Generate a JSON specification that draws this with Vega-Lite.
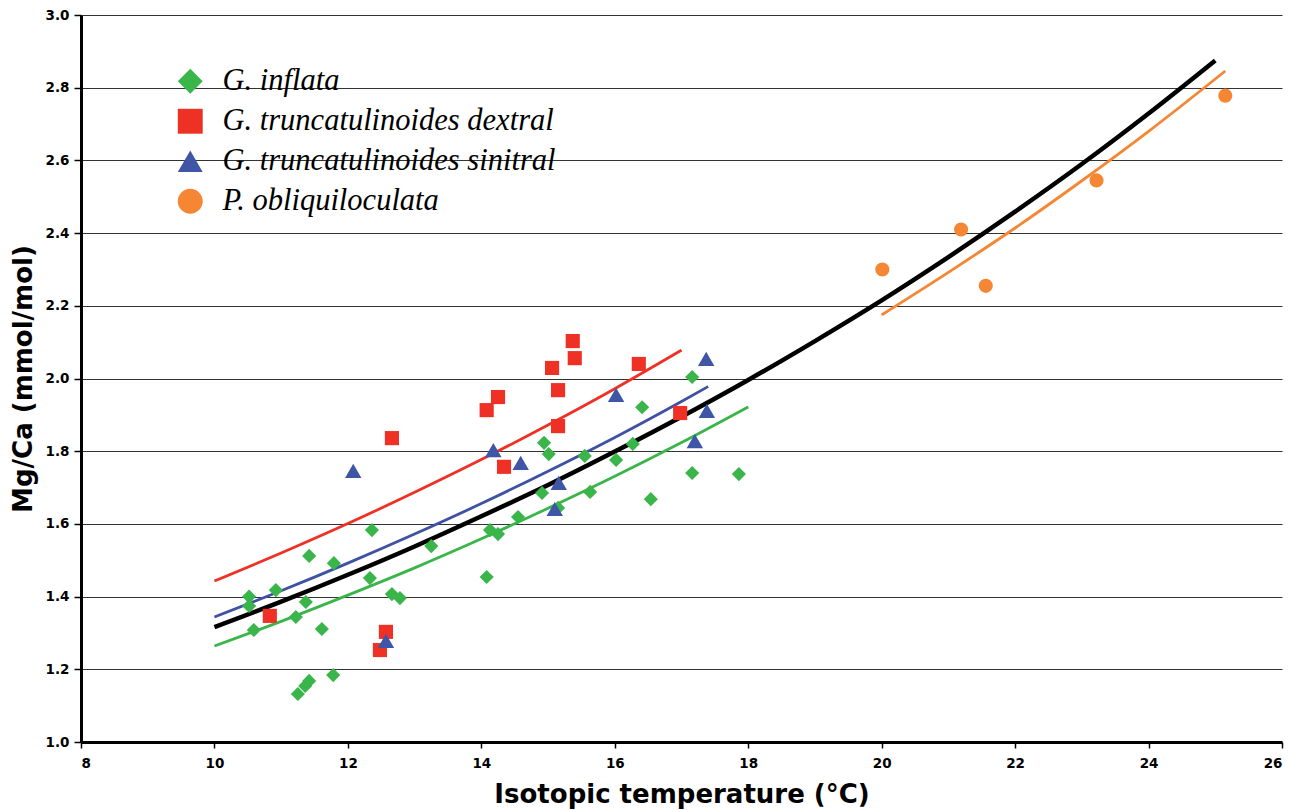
{
  "$schema": "https://vega.github.io/schema/vega-lite/v6.json",
  "width": 1201,
  "height": 727,
  "autosize": {"type": "none"},
  "padding": {"left": 81, "top": 15, "right": 17, "bottom": 68},
  "background": "white",
  "datasets": {
    "points": [
      {"species": "G. inflata", "T": 10.52, "MgCa": 1.400},
      {"species": "G. inflata", "T": 10.52, "MgCa": 1.374},
      {"species": "G. inflata", "T": 10.59, "MgCa": 1.308},
      {"species": "G. inflata", "T": 10.92, "MgCa": 1.418},
      {"species": "G. inflata", "T": 11.22, "MgCa": 1.344},
      {"species": "G. inflata", "T": 11.42, "MgCa": 1.512},
      {"species": "G. inflata", "T": 11.37, "MgCa": 1.385},
      {"species": "G. inflata", "T": 11.25, "MgCa": 1.132},
      {"species": "G. inflata", "T": 11.36, "MgCa": 1.154},
      {"species": "G. inflata", "T": 11.42, "MgCa": 1.168},
      {"species": "G. inflata", "T": 11.61, "MgCa": 1.311},
      {"species": "G. inflata", "T": 11.79, "MgCa": 1.492},
      {"species": "G. inflata", "T": 11.78, "MgCa": 1.184},
      {"species": "G. inflata", "T": 12.36, "MgCa": 1.583},
      {"species": "G. inflata", "T": 12.33, "MgCa": 1.451},
      {"species": "G. inflata", "T": 12.66, "MgCa": 1.407},
      {"species": "G. inflata", "T": 12.78, "MgCa": 1.396},
      {"species": "G. inflata", "T": 13.25, "MgCa": 1.539},
      {"species": "G. inflata", "T": 14.08, "MgCa": 1.454},
      {"species": "G. inflata", "T": 14.13, "MgCa": 1.583},
      {"species": "G. inflata", "T": 14.25, "MgCa": 1.572},
      {"species": "G. inflata", "T": 14.55, "MgCa": 1.619},
      {"species": "G. inflata", "T": 14.91, "MgCa": 1.685},
      {"species": "G. inflata", "T": 14.94, "MgCa": 1.823},
      {"species": "G. inflata", "T": 15.01, "MgCa": 1.792},
      {"species": "G. inflata", "T": 15.15, "MgCa": 1.644},
      {"species": "G. inflata", "T": 15.55, "MgCa": 1.787},
      {"species": "G. inflata", "T": 15.63, "MgCa": 1.688},
      {"species": "G. inflata", "T": 16.02, "MgCa": 1.776},
      {"species": "G. inflata", "T": 16.27, "MgCa": 1.820},
      {"species": "G. inflata", "T": 16.41, "MgCa": 1.921},
      {"species": "G. inflata", "T": 16.54, "MgCa": 1.668},
      {"species": "G. inflata", "T": 17.16, "MgCa": 2.004},
      {"species": "G. inflata", "T": 17.16, "MgCa": 1.740},
      {"species": "G. inflata", "T": 17.86, "MgCa": 1.737},
      {"species": "G. truncatulinoides dextral", "T": 10.83, "MgCa": 1.347},
      {"species": "G. truncatulinoides dextral", "T": 12.66, "MgCa": 1.836},
      {"species": "G. truncatulinoides dextral", "T": 12.57, "MgCa": 1.303},
      {"species": "G. truncatulinoides dextral", "T": 12.48, "MgCa": 1.253},
      {"species": "G. truncatulinoides dextral", "T": 14.08, "MgCa": 1.913},
      {"species": "G. truncatulinoides dextral", "T": 14.25, "MgCa": 1.949},
      {"species": "G. truncatulinoides dextral", "T": 14.34, "MgCa": 1.757},
      {"species": "G. truncatulinoides dextral", "T": 15.06, "MgCa": 2.029},
      {"species": "G. truncatulinoides dextral", "T": 15.15, "MgCa": 1.968},
      {"species": "G. truncatulinoides dextral", "T": 15.15, "MgCa": 1.869},
      {"species": "G. truncatulinoides dextral", "T": 15.37, "MgCa": 2.103},
      {"species": "G. truncatulinoides dextral", "T": 15.40, "MgCa": 2.056},
      {"species": "G. truncatulinoides dextral", "T": 16.36, "MgCa": 2.040},
      {"species": "G. truncatulinoides dextral", "T": 16.98, "MgCa": 1.905},
      {"species": "G. truncatulinoides sinitral", "T": 12.08, "MgCa": 1.746},
      {"species": "G. truncatulinoides sinitral", "T": 12.57, "MgCa": 1.278},
      {"species": "G. truncatulinoides sinitral", "T": 14.18, "MgCa": 1.803},
      {"species": "G. truncatulinoides sinitral", "T": 14.59, "MgCa": 1.768},
      {"species": "G. truncatulinoides sinitral", "T": 15.16, "MgCa": 1.713},
      {"species": "G. truncatulinoides sinitral", "T": 15.10, "MgCa": 1.641},
      {"species": "G. truncatulinoides sinitral", "T": 16.02, "MgCa": 1.955},
      {"species": "G. truncatulinoides sinitral", "T": 17.37, "MgCa": 2.054},
      {"species": "G. truncatulinoides sinitral", "T": 17.38, "MgCa": 1.911},
      {"species": "G. truncatulinoides sinitral", "T": 17.20, "MgCa": 1.828},
      {"species": "P. obliquiloculata", "T": 20.01, "MgCa": 2.300},
      {"species": "P. obliquiloculata", "T": 21.19, "MgCa": 2.410},
      {"species": "P. obliquiloculata", "T": 21.56, "MgCa": 2.255},
      {"species": "P. obliquiloculata", "T": 23.22, "MgCa": 2.545},
      {"species": "P. obliquiloculata", "T": 25.15, "MgCa": 2.778}
    ],
    "allfit": [
      {"T": 10, "MgCa": 1.316}, {"T": 11, "MgCa": 1.386}, {"T": 12, "MgCa": 1.460},
      {"T": 13, "MgCa": 1.538}, {"T": 14, "MgCa": 1.621}, {"T": 15, "MgCa": 1.707},
      {"T": 16, "MgCa": 1.799}, {"T": 17, "MgCa": 1.895}, {"T": 18, "MgCa": 1.996},
      {"T": 19, "MgCa": 2.103}, {"T": 20, "MgCa": 2.215}, {"T": 21, "MgCa": 2.334},
      {"T": 22, "MgCa": 2.459}, {"T": 23, "MgCa": 2.590}, {"T": 24, "MgCa": 2.729},
      {"T": 25, "MgCa": 2.875}
    ],
    "fits": [
      {"fit": "G. inflata", "T": 10, "MgCa": 1.264}, {"fit": "G. inflata", "T": 11, "MgCa": 1.332},
      {"fit": "G. inflata", "T": 12, "MgCa": 1.404}, {"fit": "G. inflata", "T": 13, "MgCa": 1.479},
      {"fit": "G. inflata", "T": 14, "MgCa": 1.559}, {"fit": "G. inflata", "T": 15, "MgCa": 1.643},
      {"fit": "G. inflata", "T": 16, "MgCa": 1.731}, {"fit": "G. inflata", "T": 17, "MgCa": 1.824},
      {"fit": "G. inflata", "T": 18, "MgCa": 1.922},
      {"fit": "G. truncatulinoides dextral", "T": 10, "MgCa": 1.443}, {"fit": "G. truncatulinoides dextral", "T": 11, "MgCa": 1.520},
      {"fit": "G. truncatulinoides dextral", "T": 12, "MgCa": 1.601}, {"fit": "G. truncatulinoides dextral", "T": 13, "MgCa": 1.687},
      {"fit": "G. truncatulinoides dextral", "T": 14, "MgCa": 1.777}, {"fit": "G. truncatulinoides dextral", "T": 15, "MgCa": 1.872},
      {"fit": "G. truncatulinoides dextral", "T": 16, "MgCa": 1.972}, {"fit": "G. truncatulinoides dextral", "T": 17, "MgCa": 2.078},
      {"fit": "G. truncatulinoides sinitral", "T": 10, "MgCa": 1.344}, {"fit": "G. truncatulinoides sinitral", "T": 11, "MgCa": 1.416},
      {"fit": "G. truncatulinoides sinitral", "T": 12, "MgCa": 1.492}, {"fit": "G. truncatulinoides sinitral", "T": 13, "MgCa": 1.572},
      {"fit": "G. truncatulinoides sinitral", "T": 14, "MgCa": 1.656}, {"fit": "G. truncatulinoides sinitral", "T": 15, "MgCa": 1.745},
      {"fit": "G. truncatulinoides sinitral", "T": 16, "MgCa": 1.838}, {"fit": "G. truncatulinoides sinitral", "T": 17, "MgCa": 1.937},
      {"fit": "G. truncatulinoides sinitral", "T": 17.4, "MgCa": 1.978},
      {"fit": "P. obliquiloculata", "T": 20, "MgCa": 2.175}, {"fit": "P. obliquiloculata", "T": 21, "MgCa": 2.292},
      {"fit": "P. obliquiloculata", "T": 22, "MgCa": 2.414}, {"fit": "P. obliquiloculata", "T": 23, "MgCa": 2.544},
      {"fit": "P. obliquiloculata", "T": 24, "MgCa": 2.680}, {"fit": "P. obliquiloculata", "T": 25, "MgCa": 2.824},
      {"fit": "P. obliquiloculata", "T": 25.15, "MgCa": 2.846}
    ]
  },
  "config": {
    "view": {"stroke": null},
    "axis": {
      "labelFont": "DejaVu Sans",
      "labelFontWeight": "bold",
      "labelFontSize": 13.5,
      "labelColor": "black",
      "titleFont": "DejaVu Sans",
      "titleFontWeight": "bold",
      "titleFontSize": 26,
      "titleColor": "black",
      "domainColor": "black",
      "tickColor": "black"
    }
  },
  "encoding": {
    "x": {
      "field": "T", "type": "quantitative",
      "scale": {"domain": [8, 26], "nice": false, "zero": false},
      "axis": {
        "title": "Isotopic temperature (°C)",
        "values": [8, 10, 12, 14, 16, 18, 20, 22, 24, 26],
        "format": "d",
        "grid": false,
        "domainWidth": 3,
        "tickSize": 6,
        "tickWidth": 1.5,
        "labelPadding": 8,
        "titlePadding": 12
      }
    },
    "y": {
      "field": "MgCa", "type": "quantitative",
      "scale": {"domain": [1, 3], "nice": false, "zero": false},
      "axis": {
        "title": "Mg/Ca (mmol/mol)",
        "values": [1.0, 1.2, 1.4, 1.6, 1.8, 2.0, 2.2, 2.4, 2.6, 2.8, 3.0],
        "format": ".1f",
        "grid": true,
        "gridColor": "#333333",
        "gridWidth": 1,
        "domainWidth": 3,
        "tickSize": 7,
        "tickWidth": 1.5,
        "labelPadding": 5,
        "titlePadding": 9
      }
    }
  },
  "layer": [
    {
      "data": {"name": "fits"},
      "transform": [{"filter": "datum.fit == 'G. inflata'"}],
      "mark": {"type": "line", "strokeWidth": 2.8, "color": "#3AB54A", "interpolate": "monotone"},
      "encoding": {}
    },
    {
      "data": {"name": "fits"},
      "transform": [{"filter": "datum.fit == 'G. truncatulinoides dextral'"}],
      "mark": {"type": "line", "strokeWidth": 2.8, "color": "#EE3124", "interpolate": "monotone"},
      "encoding": {}
    },
    {
      "data": {"name": "fits"},
      "transform": [{"filter": "datum.fit == 'G. truncatulinoides sinitral'"}],
      "mark": {"type": "line", "strokeWidth": 2.8, "color": "#3F51A3", "interpolate": "monotone"},
      "encoding": {}
    },
    {
      "data": {"name": "fits"},
      "transform": [{"filter": "datum.fit == 'P. obliquiloculata'"}],
      "mark": {"type": "line", "strokeWidth": 2.8, "color": "#F58634", "interpolate": "monotone"},
      "encoding": {}
    },
    {
      "data": {"name": "allfit"},
      "mark": {"type": "line", "strokeWidth": 4.5, "color": "black", "interpolate": "monotone"},
      "encoding": {}
    },
    {
      "data": {"name": "points"},
      "transform": [{"filter": "datum.species != 'G. truncatulinoides sinitral'"}],
      "mark": {"type": "point", "filled": true, "opacity": 1, "strokeWidth": 0, "size": 200},
      "encoding": {
        "color": {
          "field": "species", "type": "nominal",
          "scale": {
            "domain": ["G. inflata", "G. truncatulinoides dextral", "G. truncatulinoides sinitral", "P. obliquiloculata"],
            "range": ["#3AB54A", "#EE3124", "#3F55A5", "#F58634"]
          },
          "legend": {
            "title": null,
            "orient": "none",
            "legendX": 94,
            "legendY": 51,
            "padding": 0,
            "labelFont": "Liberation Serif",
            "labelFontStyle": "italic",
            "labelFontSize": 30.5,
            "labelColor": "black",
            "labelOffset": 17,
            "labelLimit": 600,
            "rowPadding": 9,
            "symbolSize": 620,
            "symbolStrokeWidth": 0,
            "encode": {
              "symbols": {
                "enter": {
                  "size": {"signal": "datum.value == 'G. inflata' ? 1000 : (datum.value == 'G. truncatulinoides dextral' ? 480 : 620)"}
                },
                "update": {
                  "size": {"signal": "datum.value == 'G. inflata' ? 1000 : (datum.value == 'G. truncatulinoides dextral' ? 480 : 620)"}
                }
              }
            }
          }
        },
        "shape": {
          "field": "species", "type": "nominal",
          "scale": {
            "domain": ["G. inflata", "G. truncatulinoides dextral", "G. truncatulinoides sinitral", "P. obliquiloculata"],
            "range": ["diamond", "square", "triangle-up", "circle"]
          }
        }
      }
    },
    {
      "data": {"name": "points"},
      "transform": [{"filter": "datum.species == 'G. truncatulinoides sinitral'"}],
      "mark": {"type": "point", "filled": true, "opacity": 1, "strokeWidth": 0, "size": 270},
      "encoding": {
        "color": {"field": "species", "type": "nominal"},
        "shape": {"field": "species", "type": "nominal"}
      }
    }
  ]
}
